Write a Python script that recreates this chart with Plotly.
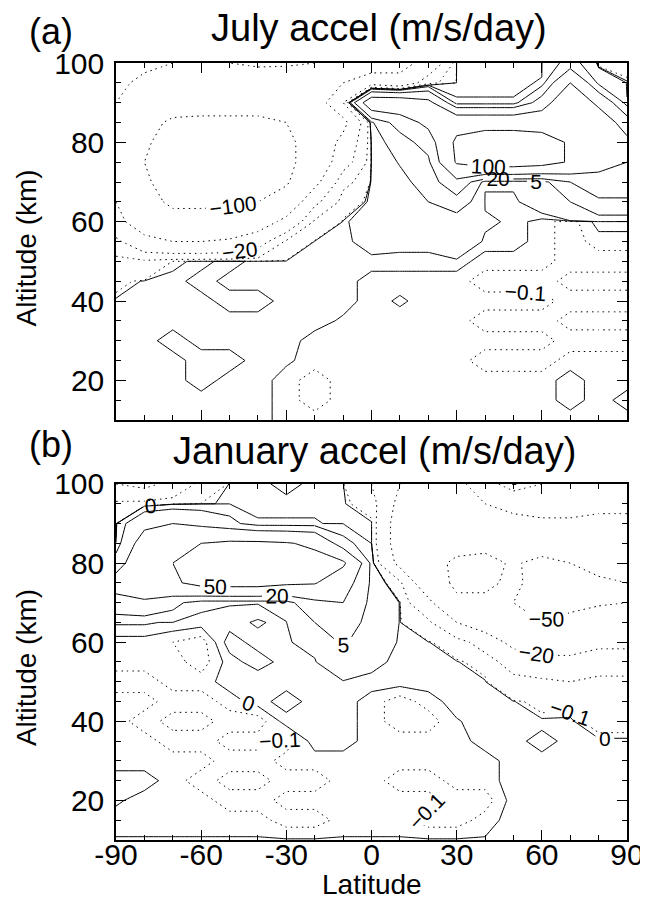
import plotly.graph_objects as go

LAT = [-90, -80, -70, -60, -50, -40, -30, -20, -10, 0, 10, 20, 30, 40, 50, 60, 70, 80, 90]
ALT = [100, 95, 90, 85, 80, 75, 70, 65, 60, 55, 50, 45, 40, 35, 30, 25, 20, 15, 10]

# July acceleration (m/s/day); rows follow ALT (top to bottom), columns follow LAT
JULY = [
    [-30, -40, -50, -55, -50, -45, -45, -50, -60, -70, -60, -40, 0.05, 0.05, 0.05, 0.05, 8, -0.5, -0.5],
    [-40, -60, -70, -75, -70, -70, -75, -70, -50, -30, -40, -8, 0.05, 0.05, 0.05, 0.12, 50, 2, 0.05],
    [-50, -75, -85, -90, -90, -90, -85, -70, -20, 80, 80, 60, 0.12, 0.12, 0.12, 30, 90, 40, 0.12],
    [-60, -90, -105, -105, -105, -105, -100, -90, -60, 3, 30, 60, 80, 80, 80, 80, 90, 80, 30],
    [-70, -95, -115, -120, -125, -120, -110, -80, -40, 0.5, 10, 30, 110, 130, 130, 120, 95, 80, 60],
    [-70, -100, -120, -130, -130, -125, -110, -80, -30, 0.3, 5.5, 15, 105, 130, 130, 120, 95, 60, 50],
    [-60, -95, -115, -120, -120, -115, -105, -60, -8, 0.3, 3, 8, 40, 0.15, 0.15, 0.15, 20, 40, 40],
    [-50, -90, -105, -105, -105, -100, -80, -25, -1, 0.3, 2, 5, 10, 0.05, 0.05, 0.3, 5, 15, 15],
    [-40, -70, -90, -90, -85, -70, -40, -3, 0.05, 0.3, 1, 2, 1, 0.16, 0.05, -0.05, -0.16, 0.05, 0.05],
    [-15, -40, -50, -50, -45, -30, -3, 0.05, 0.05, 0.2, 0.16, 0.16, 0.5, 0.05, 0.05, -0.05, -0.16, -0.05, -0.05],
    [-1.5, -3, -0.05, 0.05, 0.16, 0.05, 0.05, 0.05, 0.05, 0.05, 0.05, 0.05, 0.05, -0.05, -0.05, -0.05, -0.16, -0.16, -0.16],
    [-0.3, 0.05, 0.05, 0.16, 0.05, 0.05, 0.05, 0.05, 0.05, -0.05, -0.05, -0.05, -0.05, -0.16, -0.16, -0.16, -0.05, -0.05, -0.05],
    [0.05, 0.05, 0.05, 0.05, 0.16, 0.16, 0.05, 0.05, 0.05, -0.05, 0.02, -0.05, -0.05, -0.05, -0.05, -0.05, -0.16, -0.16, -0.16],
    [0.05, 0.05, 0.05, 0.05, 0.05, 0.05, 0.05, 0.05, -0.02, -0.05, -0.05, -0.05, -0.05, -0.16, -0.16, -0.16, -0.05, -0.05, -0.05],
    [0.05, 0.05, 0.16, 0.05, 0.05, 0.05, 0.05, -0.05, -0.05, -0.05, -0.05, -0.05, -0.05, -0.05, -0.05, -0.05, -0.16, -0.16, -0.16],
    [0.05, 0.05, 0.05, 0.16, 0.16, 0.05, 0.02, -0.05, -0.05, -0.05, -0.05, -0.05, -0.05, -0.16, -0.16, -0.16, -0.05, -0.05, -0.05],
    [0.05, 0.05, 0.05, 0.16, 0.05, 0.05, -0.05, -0.16, -0.05, -0.05, -0.05, -0.05, -0.05, -0.05, -0.05, -0.05, 0.05, -0.05, -0.05],
    [0.05, 0.05, 0.05, 0.05, 0.05, 0.05, -0.05, -0.16, -0.05, -0.05, -0.05, -0.05, -0.05, -0.05, -0.05, -0.05, 0.05, -0.05, 0.05],
    [0.05, 0.05, 0.05, 0.05, 0.05, 0.05, -0.05, -0.05, -0.05, -0.05, -0.05, -0.05, -0.05, -0.05, -0.05, -0.05, -0.05, -0.05, -0.05],
]

# January acceleration (m/s/day); same layout
JANUARY = [
    [-20, -25, -15, -2, 0.05, 0.05, 0.16, 0.05, 0.05, -5, -20, -20, -25, -10, 0.5, -5, -10, -10, -10],
    [-3, -2, -0.5, -0.05, 0.05, 0.05, 0.05, 0.05, 0.05, -0.5, -25, -25, -25, -20, -15, -15, -15, -18, -18],
    [-0.3, 15, 20, 15, 8, 0.12, 0.12, 0.12, 0.05, 0.05, -30, -22, -22, -25, -25, -22, -22, -22, -22],
    [0.12, 30, 40, 50, 55, 55, 52, 45, 8, 0.05, -30, -35, -40, -45, -40, -40, -35, -30, -30],
    [10, 40, 50, 65, 70, 70, 65, 60, 55, 2, -25, -40, -55, -55, -48, -55, -50, -40, -40],
    [30, 45, 45, 60, 62, 62, 55, 52, 30, 3, -3, -35, -55, -55, -45, -60, -55, -55, -50],
    [12, 15, 8, 0.15, 0.11, 0.11, 1, 15, 20, 2, 0.05, -15, -45, -45, -50, -60, -55, -52, -50],
    [0.12, 0.12, 0.08, 0.05, 0.05, -0.02, 0.05, 5, 10, 2, 0.05, -3, -20, -30, -40, -50, -45, -40, -40],
    [-0.05, -0.05, -0.1, -0.16, 0.16, 0.05, 0.05, 0.3, 6, 0.5, 0.05, 0.05, -1, -10, -25, -30, -30, -25, -25],
    [-0.05, -0.05, -0.05, -0.16, 0.05, 0.16, 0.05, 0.05, 1, 0.16, 0.05, 0.05, 0.05, -0.5, -10, -15, -15, -10, -10],
    [-0.16, -0.16, -0.05, -0.05, 0.05, 0.02, 0.05, 0.05, 0.05, 0.05, 0.05, 0.05, 0.05, 0.05, -2, -3, -5, -3, -3],
    [-0.05, -0.05, -0.16, -0.16, -0.05, 0.05, 0.16, 0.05, 0.05, -0.05, -0.16, -0.05, 0.05, 0.05, 0.02, -0.3, -0.2, -1, -1],
    [-0.05, -0.16, -0.05, -0.05, -0.16, -0.16, 0.05, 0.05, 0.05, -0.05, -0.16, -0.16, -0.01, 0.05, 0.05, 0.05, 0.05, -0.3, -0.3],
    [-0.05, -0.05, -0.16, -0.16, -0.05, -0.05, -0.16, 0.05, 0.05, -0.05, -0.05, -0.05, -0.05, 0.05, 0.05, 0.16, 0.05, 0.05, 0.05],
    [-0.05, -0.05, -0.05, -0.05, -0.16, -0.16, -0.05, -0.05, -0.05, -0.05, -0.05, -0.05, -0.05, -0.05, 0.05, 0.05, 0.05, 0.05, 0.05],
    [0.05, 0.05, -0.05, -0.16, -0.05, -0.05, -0.16, -0.16, -0.05, -0.05, -0.16, -0.16, -0.05, -0.05, 0.05, 0.05, 0.05, 0.05, 0.05],
    [0.02, -0.05, -0.05, -0.05, -0.16, -0.16, -0.05, -0.05, -0.05, -0.05, -0.05, -0.05, -0.16, -0.16, 0.05, 0.05, 0.05, 0.05, 0.05],
    [-0.05, -0.05, -0.05, -0.05, -0.05, -0.05, -0.16, -0.16, -0.05, -0.05, -0.05, -0.16, -0.16, -0.05, 0.05, 0.05, 0.05, 0.05, 0.05],
    [0.01, 0.01, 0.01, 0.01, 0.01, 0.01, 0.01, 0.01, 0.01, 0.01, 0.01, 0.01, 0.01, 0.01, 0.01, 0.05, 0.05, 0.05, 0.05],
]

LEVELS = [-100, -50, -20, -5, -0.1, 0, 0.1, 5, 20, 50, 100]
# labelled levels and the latitude span in which each label is wanted (None = anywhere)
LABELS_JULY = {-100: None, -20: None, -0.1: (30, 90), 5: (30, 90), 20: None, 100: None}
LABELS_JANUARY = {-50: None, -20: None, -0.1: None, 0: None, 5: (-20, 0), 20: None, 50: (-70, -40)}

X_TICKS = [-90, -60, -30, 0, 30, 60, 90]
X_TICKTEXT = ["-90", "-60", "-30", "0", "30", "60", "90"]
Y_TICKS = [20, 40, 60, 80, 100]
Y_TICKTEXT = ["20", "40", "60", "80", "100"]

FONT = "Liberation Sans, Arial, Helvetica, sans-serif"
DOT = "1.5px,4px"

fig = go.Figure()
alt_up = ALT[::-1]


def add_piece(z_up, lev, xa, ya, lo, hi, show_label):
    cols = [i for i, v in enumerate(LAT) if lo <= v <= hi]
    fig.add_trace(go.Contour(
        x=[LAT[i] for i in cols], y=alt_up,
        z=[[row[i] for i in cols] for row in z_up],
        xaxis=xa, yaxis=ya, autocontour=False,
        contours=dict(start=lev, end=lev, size=1, coloring="none",
                      showlabels=show_label,
                      labelfont=dict(size=21, color="black", family=FONT)),
        line=dict(color="black", width=1, dash=(DOT if lev < 0 else "solid"), smoothing=0),
        showscale=False, hoverinfo="skip",
    ))


for grid, xa, ya, labels in [(JULY, "x", "y", LABELS_JULY), (JANUARY, "x2", "y2", LABELS_JANUARY)]:
    z_up = grid[::-1]
    for lev in LEVELS:
        if lev not in labels:
            add_piece(z_up, lev, xa, ya, -90, 90, False)
        elif labels[lev] is None:
            add_piece(z_up, lev, xa, ya, -90, 90, True)
        else:
            lo, hi = labels[lev]
            if lo > -90:
                add_piece(z_up, lev, xa, ya, -90, lo, False)
            add_piece(z_up, lev, xa, ya, lo, hi, True)
            if hi < 90:
                add_piece(z_up, lev, xa, ya, hi, 90, False)

axis_common = dict(
    showline=True, linecolor="black", linewidth=1.5, mirror="allticks",
    ticks="inside", ticklen=10, tickwidth=1.2, tickcolor="black",
    showgrid=False, zeroline=False,
    tickfont=dict(size=30, color="black", family=FONT),
)
minor_x = dict(tickmode="linear", tick0=-90, dtick=10, ticks="inside", ticklen=5, tickcolor="black")
minor_y = dict(tickmode="linear", tick0=10, dtick=5, ticks="inside", ticklen=5, tickcolor="black")

fig.update_layout(
    width=648, height=901,
    margin=dict(l=108, r=19, t=55, b=69),
    paper_bgcolor="white", plot_bgcolor="white",
    showlegend=False,
    font=dict(family=FONT, color="black"),
    xaxis=dict(axis_common, domain=[0, 1], anchor="y", range=[-90, 90],
               tickmode="array", tickvals=X_TICKS, ticktext=X_TICKTEXT, showticklabels=False,
               minor=minor_x),
    yaxis=dict(axis_common, domain=[0.5405, 1], anchor="x", range=[10, 100],
               tickmode="array", tickvals=Y_TICKS, ticktext=Y_TICKTEXT,
               ticklabelstandoff=4, minor=minor_y),
    xaxis2=dict(axis_common, domain=[0, 1], anchor="y2", range=[-90, 90],
                tickmode="array", tickvals=X_TICKS, ticktext=X_TICKTEXT,
                ticklabelstandoff=-13, minor=minor_x),
    yaxis2=dict(axis_common, domain=[0, 0.4582], anchor="x2", range=[10, 100],
                tickmode="array", tickvals=Y_TICKS, ticktext=Y_TICKTEXT,
                ticklabelstandoff=4, minor=minor_y),
)

ann = [
    dict(text="July accel (m/s/day)", x=0.515, y=1.045, size=38),
    dict(text="(a)", x=-0.128, y=1.041, size=36),
    dict(text="January accel (m/s/day)", x=0.505, y=0.5005, size=38),
    dict(text="(b)", x=-0.128, y=0.5085, size=36),
    dict(text="Latitude", x=0.5, y=-0.0578, size=28),
]
for a in ann:
    fig.add_annotation(text=a["text"], x=a["x"], y=a["y"], xref="paper", yref="paper",
                       xanchor="center", yanchor="middle", showarrow=False,
                       font=dict(size=a["size"], color="black", family=FONT))
for yc in (0.762, 0.222):
    fig.add_annotation(text="Altitude (km)", x=-0.175, y=yc, xref="paper", yref="paper",
                       xanchor="center", yanchor="middle", showarrow=False, textangle=-90,
                       font=dict(size=28, color="black", family=FONT))

fig.write_html("out.html")
